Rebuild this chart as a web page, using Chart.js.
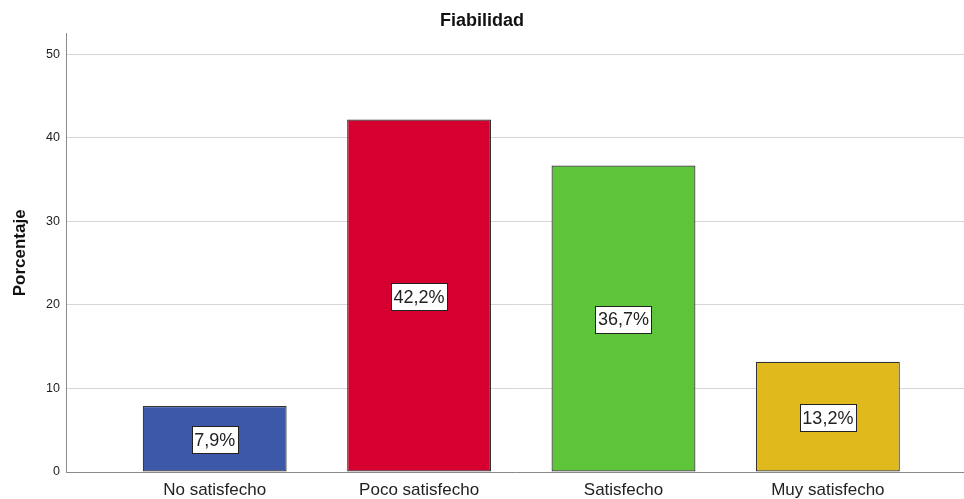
<!DOCTYPE html>
<html>
<head>
<meta charset="utf-8">
<script src="https://cdn.jsdelivr.net/npm/chart.js@4"></script>
<style>
  html, body { margin: 0; padding: 0; background: #fff; }
  #wrap { width: 964px; height: 499px; }
</style>
</head>
<body>
<div id="wrap"><canvas id="c" width="964" height="499"></canvas></div>
<script>
const categories = ['No satisfecho', 'Poco satisfecho', 'Satisfecho', 'Muy satisfecho'];
const percentages = [7.9, 42.2, 36.7, 13.2];
const barColors = ['#3d58a8', '#d60030', '#5ec43a', '#e0ba1c'];
const yTicks = [0, 10, 20, 30, 40, 50];

const FONT = '"Liberation Sans", Arial, sans-serif';

// White boxed value label in the middle of each bar
const valueBoxes = {
  id: 'valueBoxes',
  afterDatasetsDraw(chart) {
    const ctx = chart.ctx;
    const meta = chart.getDatasetMeta(0);
    ctx.save();
    ctx.font = '18px ' + FONT;
    ctx.textAlign = 'center';
    ctx.textBaseline = 'middle';
    meta.data.forEach((bar, i) => {
      const txt = percentages[i].toFixed(1).replace('.', ',') + '%';
      const cx = bar.x;
      const cy = (bar.y + bar.base) / 2 + 1;
      const w = Math.round(ctx.measureText(txt).width + 5);
      const h = 27;
      const bx = Math.round(cx - w / 2) + 0.5;
      const by = Math.round(cy - h / 2) + 0.5;
      ctx.fillStyle = '#ffffff';
      ctx.fillRect(bx, by, w, h);
      ctx.strokeStyle = '#222';
      ctx.lineWidth = 1;
      ctx.strokeRect(bx, by, w, h);
      ctx.fillStyle = '#222';
      ctx.fillText(txt, cx, cy + 1);
    });
    ctx.restore();
  }
};

new Chart(document.getElementById('c'), {
  type: 'bar',
  data: {
    datasets: [{
      data: percentages.map((v, i) => ({ x: i + 1, y: v })),
      backgroundColor: barColors,
      borderColor: '#333333',
      borderWidth: 1.2,
      borderSkipped: false,
      categoryPercentage: 1,
      barPercentage: 0.704
    }]
  },
  options: {
    responsive: false,
    animation: false,
    layout: { padding: { left: 0, right: 0, top: 0, bottom: 0 } },
    plugins: {
      legend: { display: false },
      tooltip: { enabled: false },
      title: {
        display: true,
        text: 'Fiabilidad',
        color: '#111',
        font: { family: FONT, size: 18, weight: 'bold' },
        padding: { top: 10, bottom: 2 }
      }
    },
    scales: {
      x: {
        type: 'linear',
        offset: false,
        min: 0.2725,
        max: 4.666,
        afterBuildTicks: (s) => { s.ticks = categories.map((_, i) => ({ value: i + 1 })); },
        afterFit: (s) => { s.height = 27; },
        grid: { display: false, drawTicks: false },
        border: { display: true, color: '#8a8a8a', width: 1 },
        ticks: {
          padding: 8,
          autoSkip: false,
          maxRotation: 0,
          color: '#222',
          font: { family: FONT, size: 17 },
          callback: (v) => categories[v - 1] || ''
        }
      },
      y: {
        min: 0,
        max: 52.5,
        afterBuildTicks: (s) => { s.ticks = yTicks.map(v => ({ value: v })); },
        afterFit: (s) => { s.width = 66; },
        grid: { color: '#d6d6d6', lineWidth: 1, drawTicks: false },
        border: { display: true, color: '#8a8a8a', width: 1 },
        ticks: {
          padding: 6,
          color: '#222',
          font: { family: FONT, size: 12.5 }
        },
        title: {
          display: true,
          text: 'Porcentaje',
          color: '#111',
          font: { family: FONT, size: 17, weight: 'bold' },
          padding: { top: 10, bottom: 0 }
        }
      }
    }
  },
  plugins: [valueBoxes]
});
</script>
</body>
</html>
